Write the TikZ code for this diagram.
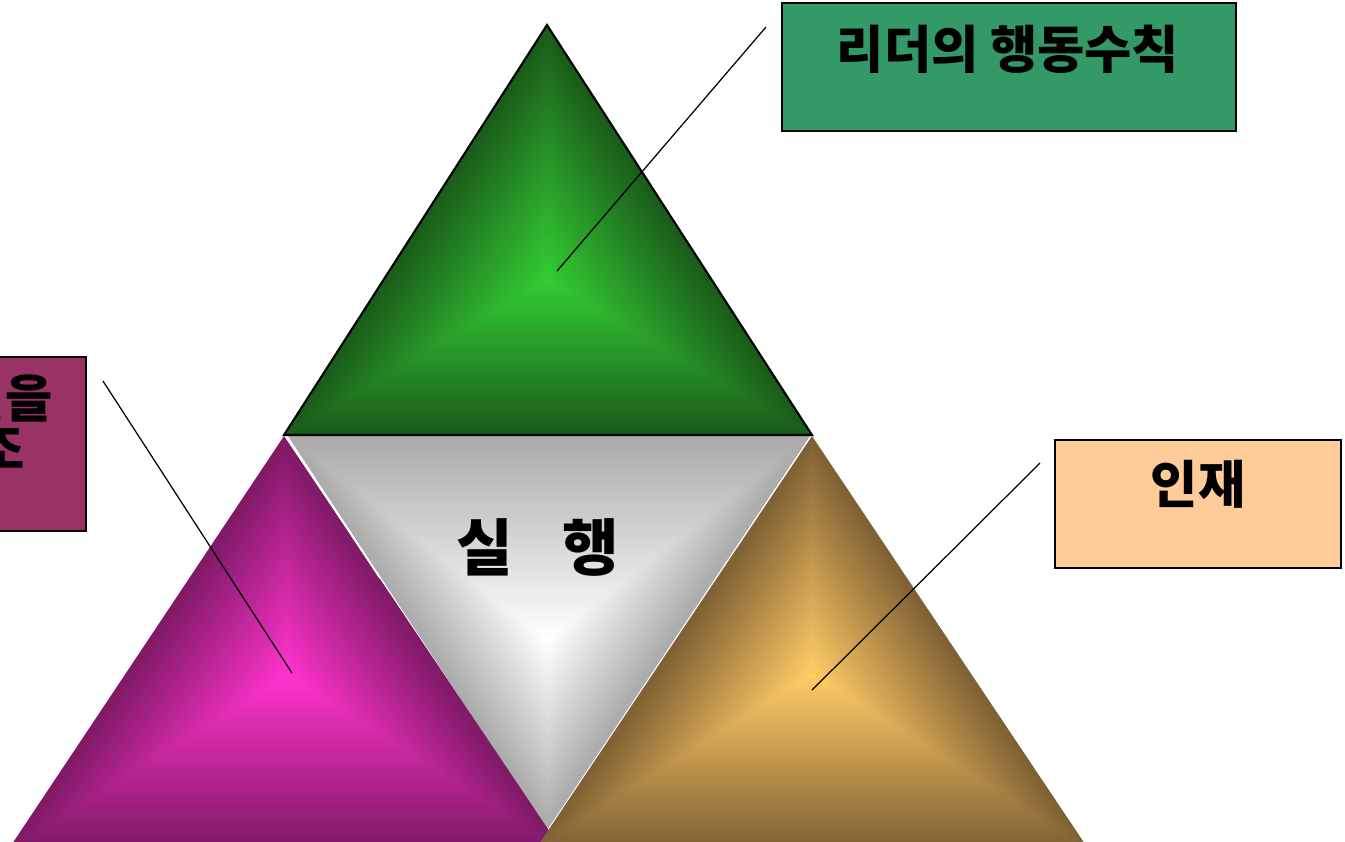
\documentclass[tikz,border=0pt]{standalone}
\usepackage{fontspec}
\newfontfamily\kr{Noto Sans CJK KR}
\usetikzlibrary{calc}
\definecolor{gEdge}{HTML}{1A5C1A}
\definecolor{gCen}{HTML}{33CC33}
\definecolor{mEdge}{HTML}{7F1A66}
\definecolor{mCen}{HTML}{FF33CC}
\definecolor{oEdge}{HTML}{7F6133}
\definecolor{oCen}{HTML}{FFCC66}
\definecolor{wEdge}{HTML}{ABABAB}
\definecolor{wCen}{HTML}{FFFFFF}
\definecolor{boxGreen}{HTML}{339966}
\definecolor{boxPeach}{HTML}{FFCC99}
\definecolor{boxPlum}{HTML}{993366}
\newcommand\pyrfill[6]{%
  \foreach \i in {0,...,44}{%
    \pgfmathsetmacro\sc{1-\i/45}%
    \pgfmathtruncatemacro\pc{100*\i/44}%
    \fill[#6!\pc!#5] ($(#4)!\sc!(#1)$) -- ($(#4)!\sc!(#2)$) -- ($(#4)!\sc!(#3)$) -- cycle;
  }}
\tikzset{
  box/.style={draw=black, line width=0.4pt, inner sep=0pt},
  lbl/.style={font=\kr\bfseries\fontsize{14.6}{17}\selectfont, inner sep=0pt},
  bigl/.style={font=\kr\bfseries\fontsize{17.5}{20}\selectfont, inner sep=0pt},
  leader/.style={draw=black, line width=0.35pt}
}
\begin{document}
\begin{tikzpicture}[x=0.01cm,y=-0.01cm]
\clip (0,0) rectangle (1345,841);
\fill[white] (0,0) rectangle (1345,841);
% vertices
\coordinate (GA) at (547,25);
\coordinate (GL) at (284,435);
\coordinate (GR) at (812,435);
\coordinate (GI) at (547,280);
\coordinate (WL) at (288,436);
\coordinate (WR) at (810,436);
\coordinate (WB) at (547,830);
\coordinate (WI) at (547,640);
\coordinate (MT) at (284,436);
\coordinate (ML) at (8,850);
\coordinate (MR) at (562,850);
\coordinate (MI) at (288,675);
\coordinate (OT) at (812,436);
\coordinate (OL) at (535,850);
\coordinate (OR) at (1089,850);
\coordinate (OI) at (812,675);
% triangles
\pyrfill{WL}{WR}{WB}{WI}{wEdge}{wCen}
\pyrfill{MT}{ML}{MR}{MI}{mEdge}{mCen}
\pyrfill{OT}{OL}{OR}{OI}{oEdge}{oCen}
\pyrfill{GA}{GL}{GR}{GI}{gEdge}{gCen}
\draw[white, line width=0.5pt] (287,437) -- (380,578);
\draw[black, line width=0.6pt, line join=miter] (GA) -- (GL) -- (GR) -- cycle;
% centre label
\node[bigl] (exec) at (538,547) {실\hspace{0.8em}행};
% boxes
\node[box, fill=boxGreen, minimum width=4.54cm, minimum height=1.28cm] (bTop) at (1009,67) {};
\node[box, fill=boxPeach, minimum width=2.86cm, minimum height=1.28cm] (bRight) at (1198,504) {};
\node[box, fill=boxPlum, minimum width=2.86cm, minimum height=1.74cm] (bLeft) at (-57,444) {};
\node[lbl] (tTop) at (1008,49) {리더의 행동수칙};
\node[lbl] (tRight) at (1198,484) {인재};
\node[lbl, anchor=east] (tLeft1) at (53,398) {정신을};
\node[lbl, anchor=east] (tLeft2) at (25,449) {창조};
% leaders
\coordinate (c1a) at (766,27);
\coordinate (c1b) at (557,271);
\coordinate (c2a) at (103,381);
\coordinate (c2b) at (292,673);
\coordinate (c3a) at (1040,463);
\coordinate (c3b) at (812,690);
\draw[leader] (c1a) -- (c1b);
\draw[leader] (c2a) -- (c2b);
\draw[leader] (c3a) -- (c3b);
\end{tikzpicture}
\end{document}
